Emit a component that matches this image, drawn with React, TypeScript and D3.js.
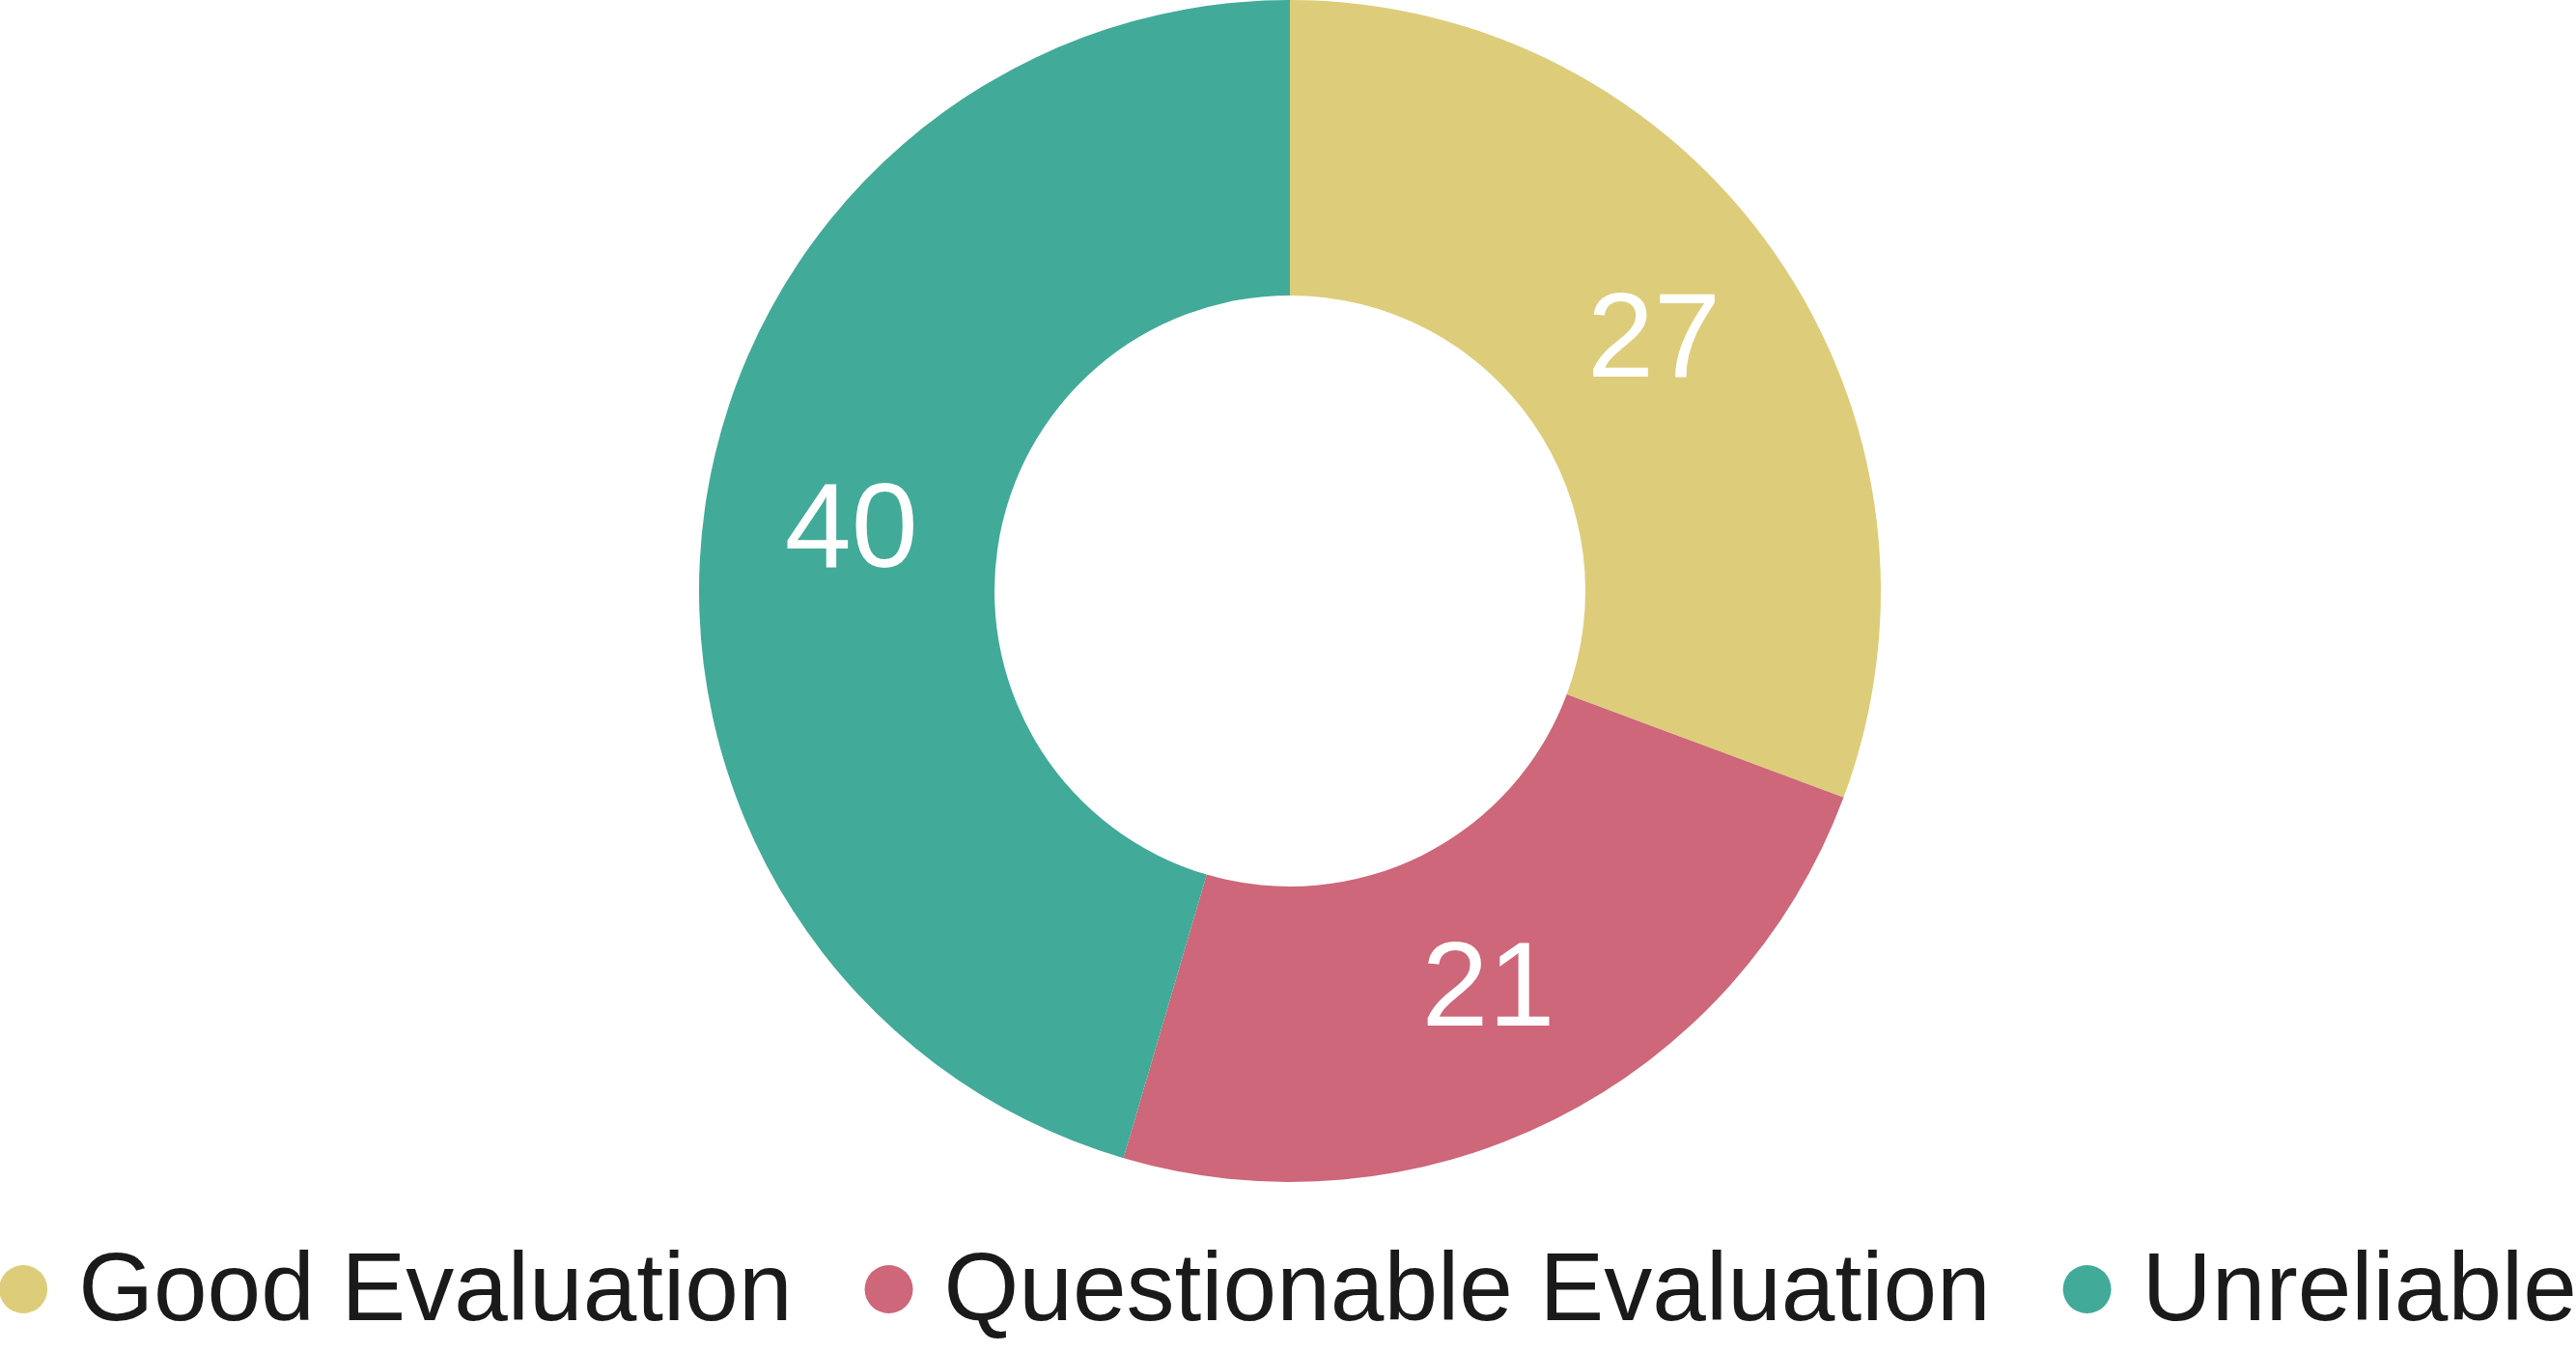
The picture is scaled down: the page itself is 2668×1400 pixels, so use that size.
import React from "react";
import * as d3 from "d3";

const categories = ["Good Evaluation", "Questionable Evaluation", "Unreliable"];
const values = [27, 21, 40];
const colors = ["#DDCD7A", "#CD6779", "#42AA98"];

const W = 2668;
const H = 1400;
const CX = 1336;
const CY = 612;
const R_OUT = 612;
const R_IN = 306;
const LEGEND_FONT = 100;
const LEGEND_Y = 1335;
const DOT_R = 25;
const DOT_GAP = 57;
const ITEM_GAP = 75;
const FONT = "'Liberation Sans', Arial, Helvetica, sans-serif";

function measure(text: string, size: number): number {
  const c = document.createElement("canvas");
  const ctx = c.getContext("2d");
  if (!ctx) return text.length * size * 0.5;
  ctx.font = `${size}px ${FONT}`;
  return ctx.measureText(text).width;
}

export default function App() {
  const data = categories.map((c, i) => ({ cat: c, value: values[i], color: colors[i] }));
  const pie = d3.pie<any>().value((d: any) => d.value).sort(null);
  const arcs = pie(data);
  const arc = d3.arc<any>().innerRadius(R_IN).outerRadius(R_OUT);
  const labelArc = d3.arc<any>().innerRadius((R_IN + R_OUT) / 2).outerRadius((R_IN + R_OUT) / 2);

  const widths = categories.map((c) => measure(c, LEGEND_FONT));
  const itemWidths = widths.map((w) => DOT_R * 2 + (DOT_GAP - DOT_R) + w);
  const total = itemWidths.reduce((a, b) => a + b, 0) + ITEM_GAP * (categories.length - 1);
  let x0 = (W - total) / 2;
  const legendItems = categories.map((c, i) => {
    const x = x0;
    x0 += itemWidths[i] + ITEM_GAP;
    return { cat: c, x, color: colors[i] };
  });

  return (
    <div style={{ position: "fixed", left: 0, top: 0, width: W, height: H, background: "#fff" }}>
      <svg width={W} height={H} style={{ display: "block" }}>
        <g transform={`translate(${CX},${CY})`}>
          {arcs.map((a, i) => (
            <path key={i} d={arc(a) || ""} fill={a.data.color} />
          ))}
          {arcs.map((a, i) => {
            const [x, y] = labelArc.centroid(a);
            return (
              <text
                key={"l" + i}
                x={x}
                y={y - 3}
                fill="#ffffff"
                fontFamily={FONT}
                fontSize={124}
                textAnchor="middle"
                dominantBaseline="central"
              >
                {a.data.value}
              </text>
            );
          })}
        </g>
        {legendItems.map((it, i) => (
          <g key={"lg" + i}>
            <circle cx={it.x + DOT_R} cy={LEGEND_Y} r={DOT_R} fill={it.color} />
            <text
              x={it.x + DOT_R + DOT_GAP}
              y={LEGEND_Y - 3}
              fill="#1a1a1a"
              fontFamily={FONT}
              fontSize={LEGEND_FONT}
              dominantBaseline="central"
            >
              {it.cat}
            </text>
          </g>
        ))}
      </svg>
    </div>
  );
}
